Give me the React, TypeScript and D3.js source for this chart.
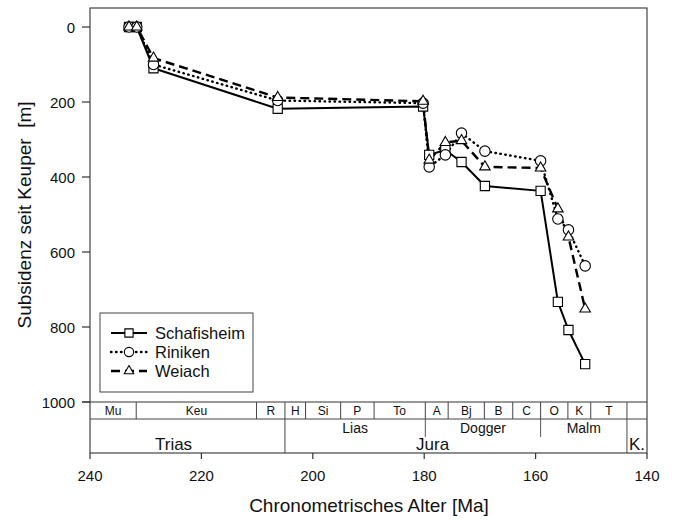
import * as d3 from "d3";

const W = 676;
const H = 520;
const FONT = "'Liberation Sans', Arial, Helvetica, sans-serif";

// ages [Ma] and subsidence [m]
const schafAge = [233, 231.6, 228.6, 206.3, 180.2, 179.1, 176.2, 173.3, 169.1, 159.1, 156, 154.1, 151.1];
const schafDepth = [0, 0, 110, 218, 212, 341, 328, 360, 424, 437, 733, 808, 899];

const rinikAge = [233, 231.6, 228.6, 206.3, 180.2, 179.1, 176.2, 173.3, 169.1, 159.1, 156, 154.1, 151.1];
const rinikDepth = [0, 0, 100, 196, 203, 373, 341, 283, 331, 357, 512, 541, 637];

const weiachAge = [233, 231.6, 228.6, 206.3, 180.2, 179.1, 176.2, 173.3, 169.1, 159.1, 156, 154.1, 151.1];
const weiachDepth = [0, 0, 83, 188, 198, 355, 308, 303, 373, 376, 485, 560, 752];

const xTicks = [240, 220, 200, 180, 160, 140];
const yTicks = [0, 200, 400, 600, 800, 1000];

// stratigraphic table
const stageNames = ["Mu", "Keu", "R", "H", "Si", "P", "To", "A", "Bj", "B", "C", "O", "K", "T", ""];
const stageBounds = [240, 231.7, 210.1, 205, 201.3, 195, 189, 179.8, 175.7, 169.2, 164.1, 159.1, 154.2, 150.1, 143.6, 140];
const seriesNames = ["Lias", "Dogger", "Malm"];
const seriesBounds = [205, 179.8, 159.1, 143.6];
const systemNames = ["Trias", "Jura", "K."];
const systemLabelAt = [225, 178.5, 141.8];
const systemBounds = [240, 205, 143.6, 140];

const MARGIN = { left: 90, right: 647, top: 8 };

export default function App() {
  const x = d3.scaleLinear().domain([240, 140]).range([MARGIN.left, MARGIN.right]);
  const y = d3.scaleLinear().domain([0, 1000]).range([27, 402]);

  const tableTop = y(1000);
  const stageBottom = 419;
  const tableBottom = 453;

  const line = d3
    .line<[number, number]>()
    .x((d) => x(d[0]))
    .y((d) => y(d[1]));

  const series = [
    {
      name: "Schafisheim",
      pts: schafAge.map((a, i) => [a, schafDepth[i]] as [number, number]),
      dash: "none",
      width: 2,
      cap: "butt",
      symbol: d3.symbolSquare,
      size: 85,
    },
    {
      name: "Riniken",
      pts: rinikAge.map((a, i) => [a, rinikDepth[i]] as [number, number]),
      dash: "0.5,4.5",
      width: 2.4,
      cap: "round",
      symbol: d3.symbolCircle,
      size: 85,
    },
    {
      name: "Weiach",
      pts: weiachAge.map((a, i) => [a, weiachDepth[i]] as [number, number]),
      dash: "9,5",
      width: 2.4,
      cap: "butt",
      symbol: d3.symbolTriangle,
      size: 48,
    },
  ];

  const sym = (s: d3.SymbolType, size: number) => d3.symbol().type(s).size(size)() || "";

  const legendX = 100;
  const legendY = 313;

  return (
    <svg
      width={W}
      height={H}
      style={{ position: "absolute", left: 0, top: 0, background: "#fff" }}
      fontFamily={FONT}
    >
      <rect width={W} height={H} fill="#fff" />

      {/* frame */}
      <rect
        x={MARGIN.left}
        y={MARGIN.top}
        width={MARGIN.right - MARGIN.left}
        height={tableBottom - MARGIN.top}
        fill="none"
        stroke="#444"
        strokeWidth={1.2}
      />

      {/* y axis */}
      {yTicks.map((t) => (
        <g key={t}>
          <line x1={82} x2={MARGIN.left} y1={y(t)} y2={y(t)} stroke="#333" strokeWidth={1.2} />
          <text x={75} y={y(t) + 5.5} fontSize={15} textAnchor="end" fill="#111">
            {t}
          </text>
        </g>
      ))}
      <text
        transform={`translate(31,${215}) rotate(-90)`}
        textAnchor="middle"
        fontSize={19}
        fill="#111"
        style={{ whiteSpace: "pre" }}
      >
        {"Subsidenz seit Keuper  [m]"}
      </text>

      {/* stratigraphic table */}
      <line x1={82} x2={MARGIN.right} y1={tableTop} y2={tableTop} stroke="#333" strokeWidth={1.2} />
      <line x1={MARGIN.left} x2={MARGIN.right} y1={stageBottom} y2={stageBottom} stroke="#444" strokeWidth={1} />
      {stageBounds.slice(1, -1).map((b) => (
        <line key={b} x1={x(b)} x2={x(b)} y1={tableTop} y2={stageBottom} stroke="#444" strokeWidth={1} />
      ))}
      {stageNames.map((n, i) => (
        <text
          key={i}
          x={(x(stageBounds[i]) + x(stageBounds[i + 1])) / 2}
          y={tableTop + 12.5}
          fontSize={12}
          textAnchor="middle"
          fill="#111"
        >
          {n}
        </text>
      ))}
      {seriesBounds.slice(1, -1).map((b) => (
        <line key={b} x1={x(b)} x2={x(b)} y1={stageBottom} y2={437} stroke="#555" strokeWidth={1} />
      ))}
      {seriesNames.map((n, i) => (
        <text
          key={n}
          x={(x(seriesBounds[i]) + x(seriesBounds[i + 1])) / 2}
          y={433}
          fontSize={14}
          textAnchor="middle"
          fill="#111"
        >
          {n}
        </text>
      ))}
      {systemBounds.slice(1, -1).map((b) => (
        <line key={b} x1={x(b)} x2={x(b)} y1={stageBottom} y2={tableBottom} stroke="#444" strokeWidth={1} />
      ))}
      {systemNames.map((n, i) => (
        <text key={n} x={x(systemLabelAt[i])} y={450} fontSize={17} textAnchor="middle" fill="#111">
          {n}
        </text>
      ))}

      {/* x axis */}
      {xTicks.map((t) => (
        <g key={t}>
          <line x1={x(t)} x2={x(t)} y1={tableBottom} y2={tableBottom + 6} stroke="#333" strokeWidth={1.2} />
          <text x={x(t)} y={481} fontSize={15} textAnchor="middle" fill="#111">
            {t}
          </text>
        </g>
      ))}
      <text x={369} y={512} fontSize={19} textAnchor="middle" fill="#111">
        Chronometrisches Alter [Ma]
      </text>

      {/* series lines */}
      {series.map((s) => (
        <path
          key={s.name}
          d={line(s.pts) || ""}
          fill="none"
          stroke="#000"
          strokeWidth={s.width}
          strokeDasharray={s.dash}
          strokeLinecap={s.cap as any}
          strokeLinejoin="round"
        />
      ))}
      {/* markers */}
      {series.map((s) =>
        s.pts.map((p, i) => (
          <path
            key={s.name + i}
            d={sym(s.symbol, s.size)}
            transform={`translate(${x(p[0])},${y(p[1])})`}
            fill="#fff"
            stroke="#000"
            strokeWidth={1.1}
          />
        ))
      )}

      {/* legend */}
      <rect x={legendX} y={legendY} width={153} height={79} fill="#fff" stroke="#444" strokeWidth={1} />
      {series.map((s, i) => {
        const ly = 333 + i * 19;
        return (
          <g key={s.name}>
            <line
              x1={111}
              x2={147}
              y1={ly}
              y2={ly}
              stroke="#000"
              strokeWidth={s.width}
              strokeDasharray={s.dash}
              strokeLinecap={s.cap as any}
            />
            <path
              d={sym(s.symbol, s.size * 0.8)}
              transform={`translate(129,${ly})`}
              fill="#fff"
              stroke="#000"
              strokeWidth={1.1}
            />
            <text x={155} y={ly + 6} fontSize={16.5} fill="#111">
              {s.name}
            </text>
          </g>
        );
      })}
    </svg>
  );
}
